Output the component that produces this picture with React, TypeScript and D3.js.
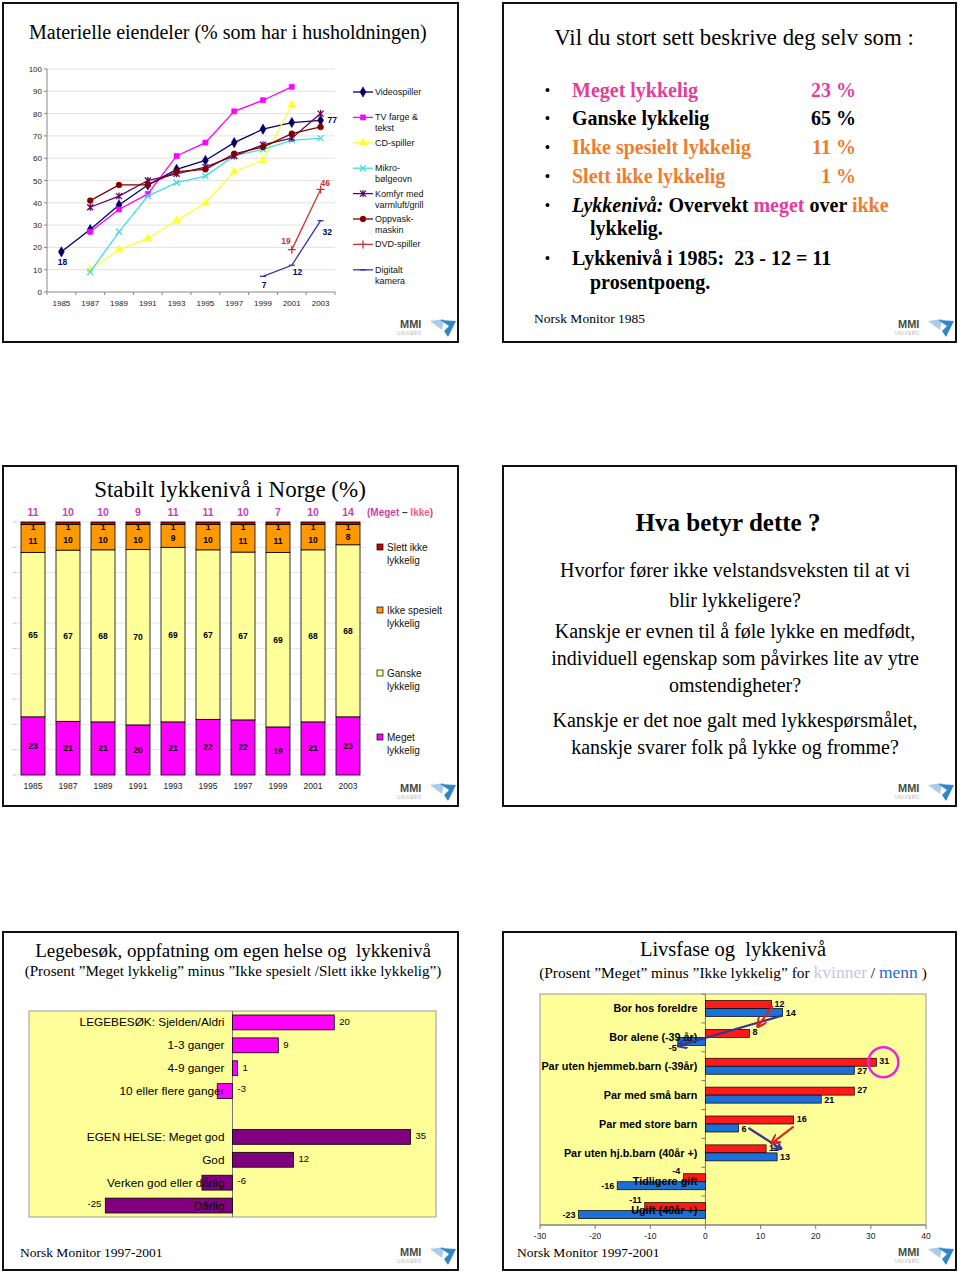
import React from "react";
import * as d3 from "d3";

const SANS = "'Liberation Sans', Arial, Helvetica, sans-serif";
const SERIF = "'Liberation Serif', 'Times New Roman', Times, serif";

// ---------- Panel 1: Materielle eiendeler ----------
const years = ["1985", "1987", "1989", "1991", "1993", "1995", "1997", "1999", "2001", "2003"];
const videospiller = [18, 28, 39, 48, 55, 59, 67, 73, 76, 77];
const tvFargeTekst = [null, 27, 37, 44, 61, 67, 81, 86, 92, null];
const cdSpiller = [null, 10, 19, 24, 32, 40, 54, 59, 84, null];
const mikrobolgeovn = [null, 9, 27, 43, 49, 52, 61, 64, 68, 69];
const komfyr = [null, 38, 43, 50, 53, 56, 61, 66, 69, 80];
const oppvaskmaskin = [null, 41, 48, 48, 54, 55, 62, 65, 71, 74];
const dvdSpiller = [null, null, null, null, null, null, null, null, 19, 46];
const digitaltKamera = [null, null, null, null, null, null, null, 7, 12, 32];
const pctTicks = [0, 10, 20, 30, 40, 50, 60, 70, 80, 90, 100];

// ---------- Panel 3: Stabilt lykkenivå ----------
const megetLykkelig = [23, 21, 21, 20, 21, 22, 22, 19, 21, 23];
const ganskeLykkelig = [65, 67, 68, 70, 69, 67, 67, 69, 68, 68];
const ikkeSpesielt = [11, 10, 10, 10, 9, 10, 11, 11, 10, 8];
const slettIkke = [1, 1, 1, 1, 1, 1, 1, 1, 1, 1];
const megetMinusIkke = [11, 10, 10, 9, 11, 11, 10, 7, 10, 14];

// ---------- Panel 5: Legebesøk / helse ----------
const helseCats = [
  "LEGEBESØK: Sjelden/Aldri",
  "1-3 ganger",
  "4-9 ganger",
  "10 eller flere ganger",
  " ",
  "EGEN HELSE: Meget god",
  "God",
  "Verken god eller dårlig",
  "Dårlig",
];
const helseValues = [20, 9, 1, -3, null, 35, 12, -6, -25];
const helseGroup = ["lege", "lege", "lege", "lege", "", "helse", "helse", "helse", "helse"];

// ---------- Panel 6: Livsfase ----------
const livsfaseCats = [
  "Bor hos foreldre",
  "Bor alene (-39 år)",
  "Par uten hjemmeb.barn (-39år)",
  "Par med små barn",
  "Par med store barn",
  "Par uten hj.b.barn (40år +)",
  "Tidligere gift",
  "Ugift (40år +)",
];
const kvinner = [12, 8, 31, 27, 16, 11, -4, -11];
const menn = [14, -5, 27, 21, 6, 13, -16, -23];
const livsfaseTicks = [-30, -20, -10, 0, 10, 20, 30, 40];

const lineSeries = [
  { name: ["Videospiller"], values: videospiller, color: "#000066", marker: "diamond" },
  { name: ["TV farge &", "tekst"], values: tvFargeTekst, color: "#ff00ff", marker: "square" },
  { name: ["CD-spiller"], values: cdSpiller, color: "#ffff33", marker: "triangle" },
  { name: ["Mikro-", "bølgeovn"], values: mikrobolgeovn, color: "#44dddd", marker: "x" },
  { name: ["Komfyr med", "varmluft/grill"], values: komfyr, color: "#660066", marker: "star" },
  { name: ["Oppvask-", "maskin"], values: oppvaskmaskin, color: "#800000", marker: "circle" },
  { name: ["DVD-spiller"], values: dvdSpiller, color: "#cc3333", marker: "plus" },
  { name: ["Digitalt", "kamera"], values: digitaltKamera, color: "#3333aa", marker: "dash" },
];

function markerPath(type: string): string {
  switch (type) {
    case "diamond":
      return d3.symbol(d3.symbolDiamond, 30)() as string;
    case "square":
      return d3.symbol(d3.symbolSquare, 26)() as string;
    case "triangle":
      return d3.symbol(d3.symbolTriangle, 28)() as string;
    case "circle":
      return d3.symbol(d3.symbolCircle, 26)() as string;
    case "x":
      return "M-3,-3L3,3M-3,3L3,-3";
    case "star":
      return "M-3,-3L3,3M-3,3L3,-3M0,-3.5L0,3.5";
    case "plus":
      return "M-4,0L4,0M0,-4L0,4";
    default:
      return "M-3,0L3,0";
  }
}
const filledMarkers = ["diamond", "square", "triangle", "circle"];

function Marker({ type, color, x, y }: any) {
  const filled = filledMarkers.includes(type);
  return (
    <path
      d={markerPath(type)}
      transform={`translate(${x},${y})`}
      fill={filled ? color : "none"}
      stroke={color}
      strokeWidth={filled ? 0.6 : 1.3}
    />
  );
}

function Logo({ right, bottom }: { right: number; bottom: number }) {
  const x = right - 58;
  const y = bottom - 14;
  return (
    <g>
      <text x={x} y={y} fontFamily={SANS} fontWeight="bold" fontSize={11} fill="#4a4a4a">
        MMI
      </text>
      <text x={x - 3} y={y + 7} fontFamily={SANS} fontSize={4.5} fill="#b0b0b0" letterSpacing={0.6}>
        UNIVERO
      </text>
      <polygon points={`${x + 30},${y - 7} ${x + 44},${y - 9} ${x + 42},${y + 2}`} fill="#a9cde6" />
      <polygon
        points={`${x + 40},${y - 8} ${x + 56},${y - 7} ${x + 48},${y + 9} ${x + 44},${y + 3} ${x + 49},${y - 2}`}
        fill="#2f86c8"
      />
    </g>
  );
}

function Frame({ x, y, w, h }: any) {
  return <rect x={x} y={y} width={w} height={h} fill="#fff" stroke="#111" strokeWidth={2} />;
}

// ---------- Panel 1 ----------
function LinePanel() {
  const x = d3.scalePoint<string>().domain(years).range([47, 335]).padding(0.5);
  const y = d3.scaleLinear().domain([0, 100]).range([292, 69]);
  const step = x.step();
  const line = d3
    .line<any>()
    .defined((d) => d.v != null)
    .x((d) => x(d.year) as number)
    .y((d) => y(d.v));

  const legendY = (i: number) => 92 + i * 25.4;

  return (
    <g>
      <Frame x={3} y={3} w={455} h={339} />
      <text x={29} y={39} fontFamily={SERIF} fontSize={20} fill="#000">
        Materielle eiendeler (% som har i husholdningen)
      </text>
      {pctTicks.map((t) => (
        <g key={t}>
          <line x1={47} x2={335} y1={y(t)} y2={y(t)} stroke={t === 0 ? "#888" : "#e2e2e2"} strokeWidth={1} />
          <line x1={44} x2={47} y1={y(t)} y2={y(t)} stroke="#888" />
          <text x={42} y={y(t) + 3} textAnchor="end" fontFamily={SANS} fontSize={8} fill="#222">
            {t}
          </text>
        </g>
      ))}
      <line x1={47} x2={47} y1={69} y2={292} stroke="#888" />
      {years.map((yr, i) => (
        <g key={yr}>
          <line
            x1={(x(yr) as number) - step / 2}
            x2={(x(yr) as number) - step / 2}
            y1={292}
            y2={295}
            stroke="#888"
          />
          <text x={x(yr)} y={306} textAnchor="middle" fontFamily={SANS} fontSize={8} fill="#222">
            {yr}
          </text>
          {i === years.length - 1 && <line x1={335} x2={335} y1={292} y2={295} stroke="#888" />}
        </g>
      ))}
      {lineSeries.map((s) => {
        const pts = years.map((yr, i) => ({ year: yr, v: s.values[i] }));
        return (
          <g key={s.name.join(" ")}>
            <path d={line(pts) as string} fill="none" stroke={s.color} strokeWidth={1.3} />
            {pts
              .filter((p) => p.v != null)
              .map((p) => (
                <Marker key={p.year} type={s.marker} color={s.color} x={x(p.year)} y={y(p.v as number)} />
              ))}
          </g>
        );
      })}
      <g fontFamily={SANS} fontWeight="bold" fontSize={8.5}>
        <text x={(x("1985") as number) + 1} y={y(videospiller[0]) + 13} textAnchor="middle" fill="#000066">
          {videospiller[0]}
        </text>
        <text x={(x("2003") as number) + 7} y={y(videospiller[9]) + 3} fill="#000066">
          {videospiller[9]}
        </text>
        <text x={x("2003") as number} y={y(dvdSpiller[9] as number) - 3} fill="#cc3333">
          {dvdSpiller[9]}
        </text>
        <text x={(x("2001") as number) - 1} y={y(dvdSpiller[8] as number) - 6} textAnchor="end" fill="#cc3333">
          {dvdSpiller[8]}
        </text>
        <text x={(x("2001") as number) + 1} y={y(digitaltKamera[8] as number) + 10} fill="#000066">
          {digitaltKamera[8]}
        </text>
        <text x={(x("1999") as number) + 1} y={y(digitaltKamera[7] as number) + 12} textAnchor="middle" fill="#000066">
          {digitaltKamera[7]}
        </text>
        <text x={(x("2003") as number) + 2} y={y(digitaltKamera[9] as number) + 14} fill="#000066">
          {digitaltKamera[9]}
        </text>
      </g>
      {lineSeries.map((s, i) => (
        <g key={"lg" + i}>
          <line x1={353} x2={373} y1={legendY(i)} y2={legendY(i)} stroke={s.color} strokeWidth={1.3} />
          <Marker type={s.marker} color={s.color} x={363} y={legendY(i)} />
          {s.name.map((n, j) => (
            <text key={j} x={375} y={legendY(i) + 3 + j * 11} fontFamily={SANS} fontSize={9} fill="#111">
              {n}
            </text>
          ))}
        </g>
      ))}
      <Logo right={458} bottom={342} />
    </g>
  );
}

// ---------- Panel 2 ----------
const PINK = "#e43d9c";
const ORANGE = "#ee7d2e";
function SurveyPanel() {
  const fs = 20;
  const lines = [
    { y: 97, parts: [{ t: "Meget lykkelig", c: PINK }], val: "23 %", vc: PINK },
    { y: 125, parts: [{ t: "Ganske lykkelig", c: "#000" }], val: "65 %", vc: "#000" },
    { y: 154, parts: [{ t: "Ikke spesielt lykkelig", c: ORANGE }], val: "11 %", vc: ORANGE },
    { y: 183, parts: [{ t: "Slett ikke lykkelig", c: ORANGE }], val: "1 %", vc: ORANGE },
  ];
  return (
    <g>
      <Frame x={503} y={3} w={453} h={339} />
      <text x={734} y={45} textAnchor="middle" fontFamily={SERIF} fontSize={22.8} fill="#000">
        Vil du stort sett beskrive deg selv som :
      </text>
      <g fontFamily={SERIF} fontWeight="bold" fontSize={fs}>
        {lines.map((l, i) => (
          <g key={i}>
            <text x={545} y={l.y - 2} fontSize={14} fill="#000">
              •
            </text>
            <text x={572} y={l.y} fill={l.parts[0].c}>
              {l.parts[0].t}
            </text>
            <text x={856} y={l.y} textAnchor="end" fill={l.vc}>
              {l.val}
            </text>
          </g>
        ))}
        <text x={545} y={210} fontSize={14} fill="#000">
          •
        </text>
        <text x={572} y={212} fill="#000">
          <tspan fontStyle="italic">Lykkenivå:</tspan>
          <tspan> Overvekt </tspan>
          <tspan fill={PINK}>meget</tspan>
          <tspan> over </tspan>
          <tspan fill={ORANGE}>ikke</tspan>
        </text>
        <text x={590} y={235} fill="#000">
          lykkelig.
        </text>
        <text x={545} y={263} fontSize={14} fill="#000">
          •
        </text>
        <text x={572} y={265} fill="#000" style={{ whiteSpace: "pre" }}>
          {"Lykkenivå i 1985:  23 - 12 = 11"}
        </text>
        <text x={590} y={289} fill="#000">
          prosentpoeng.
        </text>
      </g>
      <text x={534} y={323} fontFamily={SERIF} fontSize={13.5} fill="#000">
        Norsk Monitor 1985
      </text>
      <Logo right={956} bottom={342} />
    </g>
  );
}

// ---------- Panel 3 ----------
function StackPanel() {
  const x = d3.scaleBand<string>().domain(years).range([15.5, 365.5]).paddingInner(0.314).paddingOuter(0.157);
  const y = d3.scaleLinear().domain([0, 1]).range([775, 522]);
  const rows = years.map((yr, i) => ({
    year: yr,
    meget: megetLykkelig[i],
    ganske: ganskeLykkelig[i],
    ikke: ikkeSpesielt[i],
    slett: slettIkke[i],
  }));
  const keys = ["meget", "ganske", "ikke", "slett"];
  const colors: Record<string, string> = {
    meget: "#ff00ff",
    ganske: "#ffff99",
    ikke: "#ff9900",
    slett: "#cc0000",
  };
  const stacked = d3.stack<any>().keys(keys).offset(d3.stackOffsetExpand)(rows);
  const legend = [
    { key: "slett", lines: ["Slett ikke", "lykkelig"], y: 547 },
    { key: "ikke", lines: ["Ikke spesielt", "lykkelig"], y: 610 },
    { key: "ganske", lines: ["Ganske", "lykkelig"], y: 673 },
    { key: "meget", lines: ["Meget", "lykkelig"], y: 737 },
  ];
  const gridTicks = d3.range(0, 1.0001, 0.1);
  return (
    <g>
      <Frame x={3} y={466} w={455} h={340} />
      <text x={230} y={497} textAnchor="middle" fontFamily={SERIF} fontSize={23} fill="#000">
        Stabilt lykkenivå i Norge (%)
      </text>
      {gridTicks.map((t, i) => (
        <g key={i}>
          <line x1={15.5} x2={365.5} y1={y(t)} y2={y(t)} stroke="#e6e6e6" />
          <line x1={13} x2={15.5} y1={y(t)} y2={y(t)} stroke="#bbb" />
        </g>
      ))}
      {stacked.map((s) => (
        <g key={s.key}>
          {s.map((d, i) => (
            <rect
              key={i}
              x={x(years[i])}
              width={x.bandwidth()}
              y={y(d[1])}
              height={y(d[0]) - y(d[1])}
              fill={colors[s.key]}
              stroke="#000"
              strokeWidth={0.8}
            />
          ))}
        </g>
      ))}
      <g fontFamily={SANS} fontWeight="bold" fontSize={8.5} textAnchor="middle" fill="#000">
        {stacked.map((s) =>
          s.map((d, i) => {
            const cx = (x(years[i]) as number) + x.bandwidth() / 2;
            const mid = (y(d[0]) + y(d[1])) / 2;
            const val = (rows[i] as any)[s.key];
            let ty = mid + 3;
            if (s.key === "ikke") ty = mid + 5.5;
            if (s.key === "slett") ty = y(d[1]) + 8;
            return (
              <text key={s.key + i} x={cx} y={ty}>
                {val}
              </text>
            );
          })
        )}
      </g>
      {years.map((yr, i) => (
        <g key={yr}>
          <text
            x={(x(yr) as number) + x.bandwidth() / 2}
            y={516}
            textAnchor="middle"
            fontFamily={SANS}
            fontWeight="bold"
            fontSize={10.5}
            fill="#cc3fae"
          >
            {megetMinusIkke[i]}
          </text>
          <text
            x={(x(yr) as number) + x.bandwidth() / 2}
            y={789}
            textAnchor="middle"
            fontFamily={SANS}
            fontSize={8.5}
            fill="#222"
          >
            {yr}
          </text>
        </g>
      ))}
      <text x={367} y={516} fontFamily={SANS} fontWeight="bold" fontSize={10}>
        <tspan fill="#cc3fae">(Meget</tspan>
        <tspan fill="#333"> – </tspan>
        <tspan fill="#ff5c7a">Ikke</tspan>
        <tspan fill="#cc3fae">)</tspan>
      </text>
      {legend.map((l) => (
        <g key={l.key}>
          <rect x={377} y={l.y - 3} width={6} height={6} fill={colors[l.key]} stroke="#000" strokeWidth={0.7} />
          {l.lines.map((t, j) => (
            <text key={j} x={387} y={l.y + 3.5 + j * 13} fontFamily={SANS} fontSize={10} fill="#111">
              {t}
            </text>
          ))}
        </g>
      ))}
      <Logo right={458} bottom={806} />
    </g>
  );
}

// ---------- Panel 4 ----------
function QuestionPanel() {
  const lines = [
    { t: "Hvorfor fører ikke velstandsveksten til at vi", y: 577 },
    { t: "blir lykkeligere?", y: 606.5 },
    { t: "Kanskje er evnen til å føle lykke en medfødt,", y: 638 },
    { t: "individuell egenskap som påvirkes lite av ytre", y: 665 },
    { t: "omstendigheter?", y: 692 },
    { t: "Kanskje er det noe galt med lykkespørsmålet,", y: 726.5 },
    { t: "kanskje svarer folk på lykke og fromme?", y: 753.5 },
  ];
  return (
    <g>
      <Frame x={503} y={466} w={453} h={340} />
      <text x={728} y={531} textAnchor="middle" fontFamily={SERIF} fontWeight="bold" fontSize={25} fill="#000">
        Hva betyr dette ?
      </text>
      {lines.map((l, i) => (
        <text key={i} x={735} y={l.y} textAnchor="middle" fontFamily={SERIF} fontSize={20} fill="#000">
          {l.t}
        </text>
      ))}
      <Logo right={956} bottom={806} />
    </g>
  );
}

// ---------- Panel 5 ----------
function HelsePanel() {
  const x = d3.scaleLinear().domain([-40, 40]).range([29, 436]);
  const y = d3.scaleBand<string>().domain(helseCats).range([1011, 1217]).paddingInner(0.35).paddingOuter(0.175);
  const groupColor: Record<string, string> = { lege: "#ff00ff", helse: "#800080" };
  const zero = x(0);
  return (
    <g>
      <Frame x={3} y={932} w={455} h={338} />
      <text x={233} y={957} textAnchor="middle" fontFamily={SERIF} fontSize={19} fill="#000" style={{ whiteSpace: "pre" }}>
        {"Legebesøk, oppfatning om egen helse og  lykkenivå"}
      </text>
      <text x={233} y={976} textAnchor="middle" fontFamily={SERIF} fontSize={15.1} fill="#000">
        (Prosent ”Meget lykkelig” minus ”Ikke spesielt /Slett ikke lykkelig”)
      </text>
      <rect x={29} y={1011} width={407} height={206} fill="#ffff99" stroke="#9a9a9a" strokeWidth={1} />
      <line x1={zero} x2={zero} y1={1011} y2={1217} stroke="#777" />
      {helseCats.map((c, i) => {
        const v = helseValues[i];
        const by = y(c) as number;
        if (v == null) return null;
        return (
          <rect
            key={"b" + i}
            x={Math.min(x(v), zero)}
            width={Math.abs(x(v) - zero)}
            y={by}
            height={y.bandwidth()}
            fill={groupColor[helseGroup[i]]}
            stroke="#000"
            strokeWidth={0.8}
          />
        );
      })}
      {helseCats.map((c, i) => {
        const v = helseValues[i];
        const cy = (y(c) as number) + y.bandwidth() / 2;
        if (v == null) return null;
        let lx = x(v) + 5;
        let anchor = "start";
        if (v < 0 && v > -10) {
          lx = zero + 5;
        } else if (v < 0) {
          lx = x(v) - 4;
          anchor = "end";
        }
        return (
          <g key={"l" + i}>
            <text x={zero - 8} y={cy + 4} textAnchor="end" fontFamily={SANS} fontSize={11.8} fill="#000">
              {c}
            </text>
            <text x={lx} y={cy + (v < 0 ? 1 : 2.5)} textAnchor={anchor} fontFamily={SANS} fontSize={9.5} fill="#000">
              {v}
            </text>
          </g>
        );
      })}
      <text x={20} y={1257} fontFamily={SERIF} fontSize={13.5} fill="#000">
        Norsk Monitor 1997-2001
      </text>
      <Logo right={458} bottom={1270} />
    </g>
  );
}

// ---------- Panel 6 ----------
function LivsfasePanel() {
  const x = d3.scaleLinear().domain([-30, 40]).range([540, 926]);
  const y = d3.scaleBand<string>().domain(livsfaseCats).range([994, 1225]);
  const zero = x(0);
  const RED = "#ff1a1a";
  const BLUE = "#1c6fd6";
  const redOff = 6.5;
  const blueOff = 14.5;
  const bh = 8;
  const band = (i: number) => y(livsfaseCats[i]) as number;
  const arrows = [
    { color: "#35359a", from: [x(menn[0]), band(0) + 21.5], to: [x(menn[1]), band(1) + 23] },
    { color: "#e02020", from: [x(kvinner[0]) + 1, band(0) + 12], to: [x(kvinner[1]) + 8, band(1) + 4] },
    { color: "#35359a", from: [x(menn[4]) + 10, band(4) + 18.5], to: [x(menn[5]) + 4, band(5) + 10.5] },
    { color: "#e02020", from: [x(kvinner[4]), band(4) + 17], to: [x(12), band(5) + 5] },
  ];
  return (
    <g>
      <Frame x={503} y={932} w={453} h={338} />
      <text x={733} y={956} textAnchor="middle" fontFamily={SERIF} fontSize={20.5} fill="#000" style={{ whiteSpace: "pre" }}>
        {"Livsfase og  lykkenivå"}
      </text>
      <text x={733} y={978} textAnchor="middle" fontFamily={SERIF} fontSize={15.4} fill="#000">
        <tspan>(Prosent ”Meget” minus ”Ikke lykkelig” for </tspan>
        <tspan fill="#c5c5e8" fontSize={17.5}>
          kvinner
        </tspan>
        <tspan> / </tspan>
        <tspan fill="#2a66d0" fontSize={17.5}>
          menn
        </tspan>
        <tspan> )</tspan>
      </text>
      <defs>
        <marker id="ahBlue" viewBox="0 0 10 10" refX={9} refY={5} markerWidth={10} markerHeight={10} markerUnits="userSpaceOnUse" orient="auto">
          <path d="M0,0L10,5L0,10" fill="none" stroke="#35359a" strokeWidth={2} />
        </marker>
        <marker id="ahRed" viewBox="0 0 10 10" refX={9} refY={5} markerWidth={10} markerHeight={10} markerUnits="userSpaceOnUse" orient="auto">
          <path d="M0,0L10,5L0,10" fill="none" stroke="#e02020" strokeWidth={2} />
        </marker>
      </defs>
      <rect x={540} y={994} width={386} height={231} fill="#ffff99" stroke="#9a9a9a" />
      <line x1={540} x2={926} y1={1225} y2={1225} stroke="#777" />
      {livsfaseTicks.map((t) => (
        <g key={t}>
          <line x1={x(t)} x2={x(t)} y1={1225} y2={1229} stroke="#777" />
          <text x={x(t)} y={1239} textAnchor="middle" fontFamily={SANS} fontSize={8.5} fill="#222">
            {t}
          </text>
        </g>
      ))}
      <line x1={zero} x2={zero} y1={994} y2={1225} stroke="#777" />
      {livsfaseCats.map((c, i) => (
        <line key={"tk" + i} x1={zero - 4} x2={zero} y1={band(i)} y2={band(i)} stroke="#777" />
      ))}
      {livsfaseCats.map((c, i) => (
        <g key={"b" + i}>
          <rect
            x={Math.min(x(kvinner[i]), zero)}
            width={Math.abs(x(kvinner[i]) - zero)}
            y={band(i) + redOff}
            height={bh}
            fill={RED}
            stroke="#000"
            strokeWidth={0.7}
          />
          <rect
            x={Math.min(x(menn[i]), zero)}
            width={Math.abs(x(menn[i]) - zero)}
            y={band(i) + blueOff}
            height={bh}
            fill={BLUE}
            stroke="#000"
            strokeWidth={0.7}
          />
        </g>
      ))}
      <g fontFamily={SANS} fontWeight="bold" fontSize={9} fill="#000">
        {livsfaseCats.map((c, i) => {
          const kv = kvinner[i];
          const mv = menn[i];
          const redText =
            kv >= 0 ? (
              <text x={x(kv) + 3} y={band(i) + redOff + bh / 2 + 2}>
                {kv}
              </text>
            ) : (
              <text x={x(kv) - 3} y={band(i) + redOff + 0.5} textAnchor="end">
                {kv}
              </text>
            );
          let blueText;
          if (mv >= 0) {
            blueText = (
              <text x={x(mv) + 3} y={band(i) + blueOff + bh / 2 + 3.5}>
                {mv}
              </text>
            );
          } else if (mv > -10) {
            blueText = (
              <text x={x(mv) - 5} y={band(i) + blueOff + bh + 6} textAnchor="middle">
                {mv}
              </text>
            );
          } else {
            blueText = (
              <text x={x(mv) - 3} y={band(i) + blueOff + bh / 2 + 3.5} textAnchor="end">
                {mv}
              </text>
            );
          }
          return (
            <g key={"v" + i}>
              {redText}
              {blueText}
            </g>
          );
        })}
      </g>
      <g fontFamily={SANS} fontWeight="bold" fontSize={10.8} fill="#000" textAnchor="end">
        {livsfaseCats.map((c, i) => (
          <text key={"c" + i} x={zero - 8} y={band(i) + 14.4 + 3.8}>
            {c}
          </text>
        ))}
      </g>
      {arrows.map((a, i) => (
        <line
          key={"a" + i}
          x1={a.from[0]}
          y1={a.from[1]}
          x2={a.to[0]}
          y2={a.to[1]}
          stroke={a.color}
          strokeWidth={2.2}
          markerEnd={a.color === "#e02020" ? "url(#ahRed)" : "url(#ahBlue)"}
        />
      ))}
      <circle cx={x(kvinner[2]) + 7} cy={band(2) + redOff + bh / 2} r={15} fill="none" stroke="#ee22dd" strokeWidth={2.5} />
      <text x={517} y={1257} fontFamily={SERIF} fontSize={13.5} fill="#000">
        Norsk Monitor 1997-2001
      </text>
      <Logo right={956} bottom={1270} />
    </g>
  );
}

export default function App() {
  return (
    <svg width={960} height={1272} viewBox="0 0 960 1272" style={{ position: "absolute", left: 0, top: 0, background: "#fff" }}>
      <rect x={0} y={0} width={960} height={1272} fill="#fff" />
      <LinePanel />
      <SurveyPanel />
      <StackPanel />
      <QuestionPanel />
      <HelsePanel />
      <LivsfasePanel />
    </svg>
  );
}
